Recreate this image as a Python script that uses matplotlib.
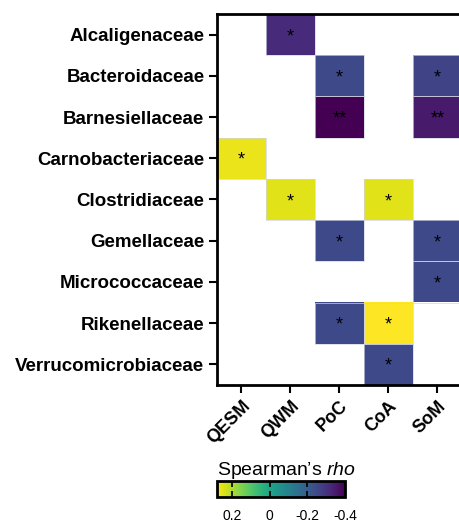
import numpy as np
import matplotlib
matplotlib.use("Agg")
import matplotlib.pyplot as plt

plt.rcParams['font.family'] = ['Liberation Sans', 'DejaVu Sans']
plt.rcParams['mathtext.fontset'] = 'custom'
plt.rcParams['mathtext.rm'] = 'Liberation Sans'
plt.rcParams['mathtext.it'] = 'Liberation Sans:italic'

families = ['Alcaligenaceae', 'Bacteroidaceae', 'Barnesiellaceae', 'Carnobacteriaceae',
            'Clostridiaceae', 'Gemellaceae', 'Micrococcaceae', 'Rikenellaceae',
            'Verrucomicrobiaceae']
regions = ['QESM', 'QWM', 'PoC', 'CoA', 'SoM']

nan = np.nan
# Spearman's rho, read off the colour scale (blank = not significant)
rho = np.array([
    [nan, -0.32, nan, nan, nan],
    [nan, nan, -0.25, nan, -0.26],
    [nan, nan, -0.40, nan, -0.35],
    [0.26, nan, nan, nan, nan],
    [nan, 0.25, nan, 0.25, nan],
    [nan, nan, -0.25, nan, -0.25],
    [nan, nan, nan, nan, -0.25],
    [nan, nan, -0.25, 0.28, nan],
    [nan, nan, nan, -0.25, nan],
])
stars = [
    ['', '*', '', '', ''],
    ['', '', '*', '', '*'],
    ['', '', '**', '', '**'],
    ['*', '', '', '', ''],
    ['', '*', '', '*', ''],
    ['', '', '*', '', '*'],
    ['', '', '', '', '*'],
    ['', '', '*', '*', ''],
    ['', '', '', '*', ''],
]
cbar_ticks = [0.2, 0, -0.2, -0.4]
cbar_labels = ['0.2', '0', '-0.2', '-0.4']

fig = plt.figure(figsize=(4.6, 5.22), dpi=100)
ax = fig.add_axes([0.4717, 0.2625, 0.5326, 0.7107])

masked = np.ma.masked_invalid(rho)
im = ax.imshow(masked, cmap='viridis', vmin=-0.4, vmax=0.28, aspect='auto',
               interpolation='nearest')

# light edge around coloured cells
for i in range(len(families)):
    for j in range(len(regions)):
        if not np.isnan(rho[i, j]):
            ax.add_patch(plt.Rectangle((j - 0.5, i - 0.5), 1, 1, fill=False,
                                       edgecolor='#d0d4e0', lw=0.5))
        if stars[i][j]:
            ax.text(j, i + 0.05, stars[i][j], ha='center', va='center',
                    fontsize=13, color='black')

ax.set_xlim(-0.5, len(regions) - 0.5)
ax.set_ylim(len(families) - 0.5, -0.5)
ax.set_xticks(range(len(regions)))
ax.set_xticklabels(regions, rotation=45, ha='right', rotation_mode='anchor',
                   fontsize=13, fontweight='bold')
ax.set_yticks(range(len(families)))
ax.set_yticklabels(families, fontsize=13.5, fontweight='bold')
ax.tick_params(direction='out', length=6, width=1.5, pad=3)
for s in ['left', 'bottom', 'top']:
    ax.spines[s].set_linewidth(2)
ax.spines['right'].set_visible(False)

# colour bar
cax = fig.add_axes([0.4717, 0.0479, 0.278, 0.0307])
cb = fig.colorbar(im, cax=cax, orientation='horizontal')
cb.ax.invert_xaxis()
cb.set_ticks(cbar_ticks)
cb.set_ticklabels(cbar_labels)
cb.outline.set_linewidth(2)
cax.tick_params(axis='x', direction='in', length=4, width=1.2, top=True,
                pad=8.5, labelsize=10)
cax.set_title("Spearman’s $\\mathit{rho}$", fontsize=14, pad=4, loc='left')

fig.savefig('out.png', dpi=100)
